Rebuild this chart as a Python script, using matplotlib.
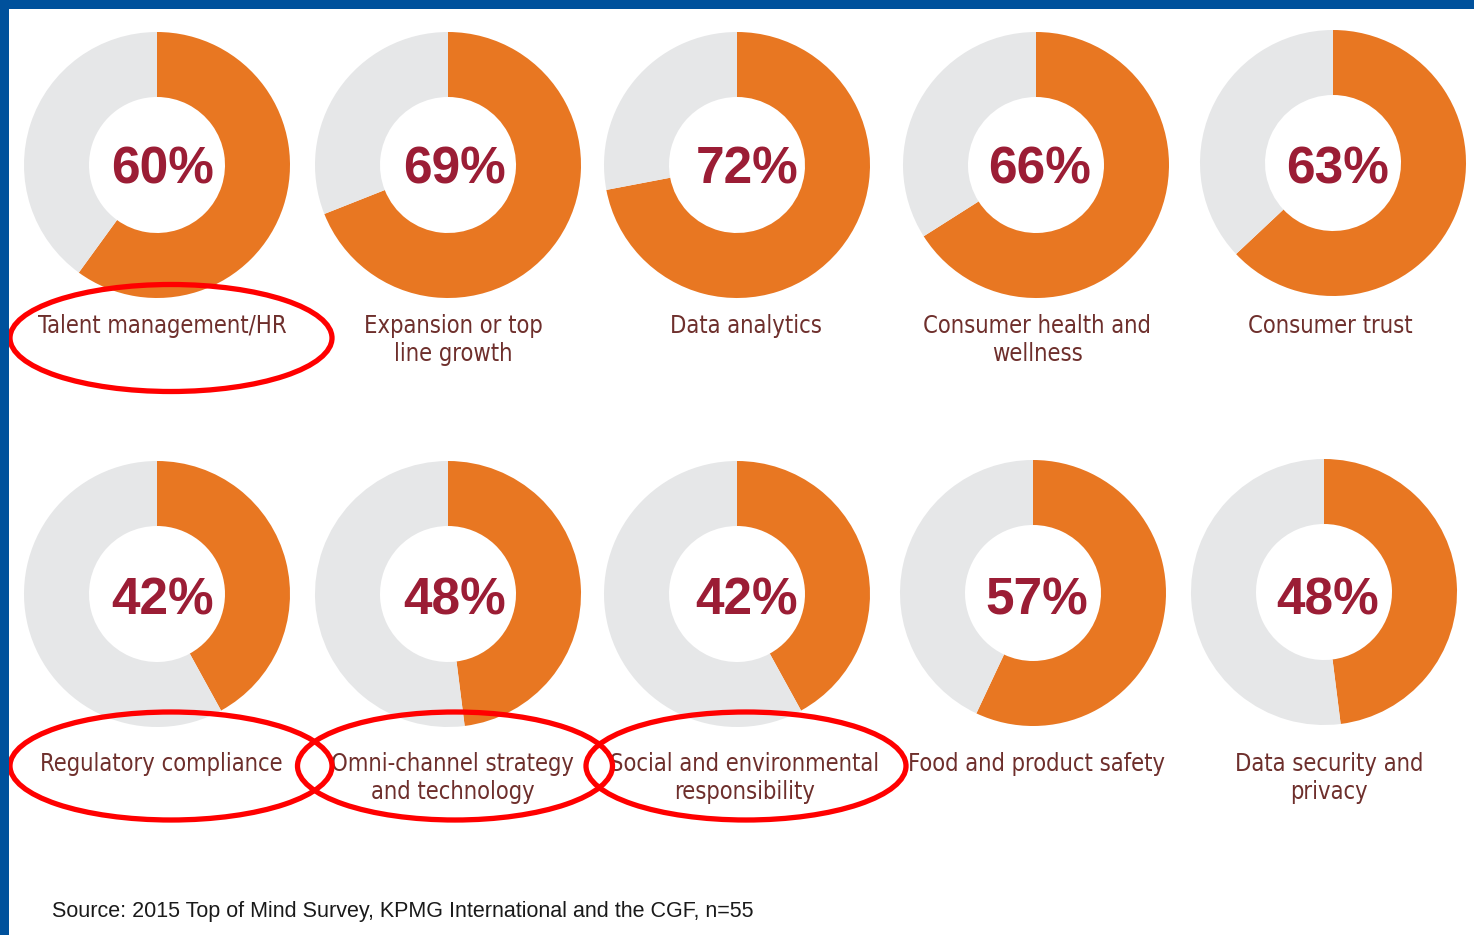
import matplotlib
matplotlib.use("Agg")
import matplotlib.pyplot as plt
from matplotlib.patches import Ellipse, Rectangle

# Survey results: share of respondents naming each topic as a priority
categories = [
    "Talent management/HR", "Expansion or top\nline growth", "Data analytics",
    "Consumer health and\nwellness", "Consumer trust",
    "Regulatory compliance", "Omni-channel strategy\nand technology",
    "Social and environmental\nresponsibility", "Food and product safety",
    "Data security and\nprivacy",
]
values = [60, 69, 72, 66, 63, 42, 48, 42, 57, 48]
highlighted = ["Talent management/HR", "Regulatory compliance",
               "Omni-channel strategy\nand technology",
               "Social and environmental\nresponsibility"]
source_note = "Source: 2015 Top of Mind Survey, KPMG International and the CGF, n=55"

W, H = 1474, 935
ORANGE = "#e87722"
GREY = "#e6e7e8"
PCT_COLOR = "#9b1d35"
LABEL_COLOR = "#6e2f2c"
BLUE = "#00519c"

# layout (pixel units, y measured from top)
centers = [(157, 165), (448, 165), (737, 165), (1036, 165), (1333, 163),
           (157, 594), (448, 594), (737, 594), (1033, 593), (1324, 592)]
pct_pos = [(163, 170), (455, 170), (747, 170), (1040, 170), (1338, 170),
           (163, 601), (455, 601), (747, 601), (1037, 601), (1328, 601)]
label_pos = [(162, 314), (453, 314), (746, 314), (1037, 314), (1330, 314),
             (161, 752), (453, 752), (745, 752), (1037, 752), (1329, 752)]
ellipses = {"Talent management/HR": (171, 338, 322, 107),
            "Regulatory compliance": (171, 766, 322, 108),
            "Omni-channel strategy\nand technology": (455, 766, 315, 108),
            "Social and environmental\nresponsibility": (746, 766, 320, 108)}
R_OUT, R_IN = 133, 68

fig = plt.figure(figsize=(W / 100, H / 100), dpi=100)
ax = fig.add_axes([0, 0, 1, 1])

for cat, val, (cx, cy), (px, py), (lx, ly) in zip(categories, values, centers,
                                                   pct_pos, label_pos):
    ax.pie([val, 100 - val], colors=[ORANGE, GREY], startangle=90,
           counterclock=False, center=(cx, H - cy), radius=R_OUT,
           wedgeprops=dict(width=R_OUT - R_IN, linewidth=0))
    ax.text(px, H - py, f"{val}%", ha="center", va="center",
            fontsize=37, fontweight="bold", color=PCT_COLOR,
            family=["Liberation Sans", "DejaVu Sans"])
    ax.text(lx, H - ly, cat, ha="center", va="top", fontsize=17,
            color=LABEL_COLOR, linespacing=1.2,
            family=["DejaVu Sans"], fontstretch="condensed")
    if cat in highlighted:
        ex, ey, ew, eh = ellipses[cat]
        ax.add_patch(Ellipse((ex, H - ey), ew, eh, fill=False,
                             edgecolor="#ff0000", linewidth=3.8, zorder=5))

ax.text(52, H - 911, source_note, ha="left", va="center", fontsize=15.5,
        color="#1a1a1a", family=["Liberation Sans", "DejaVu Sans"])

ax.set_xlim(0, W)
ax.set_ylim(0, H)
ax.set_aspect("auto")
ax.set_axis_off()

# frame strips on the left and top edges
fig.patches.append(Rectangle((0, 0), 9 / W, 1, transform=fig.transFigure,
                             facecolor=BLUE, edgecolor="none", zorder=10))
fig.patches.append(Rectangle((0, 1 - 9 / H), 1, 9 / H, transform=fig.transFigure,
                             facecolor=BLUE, edgecolor="none", zorder=10))

fig.savefig("out.png", dpi=100, facecolor="white")
